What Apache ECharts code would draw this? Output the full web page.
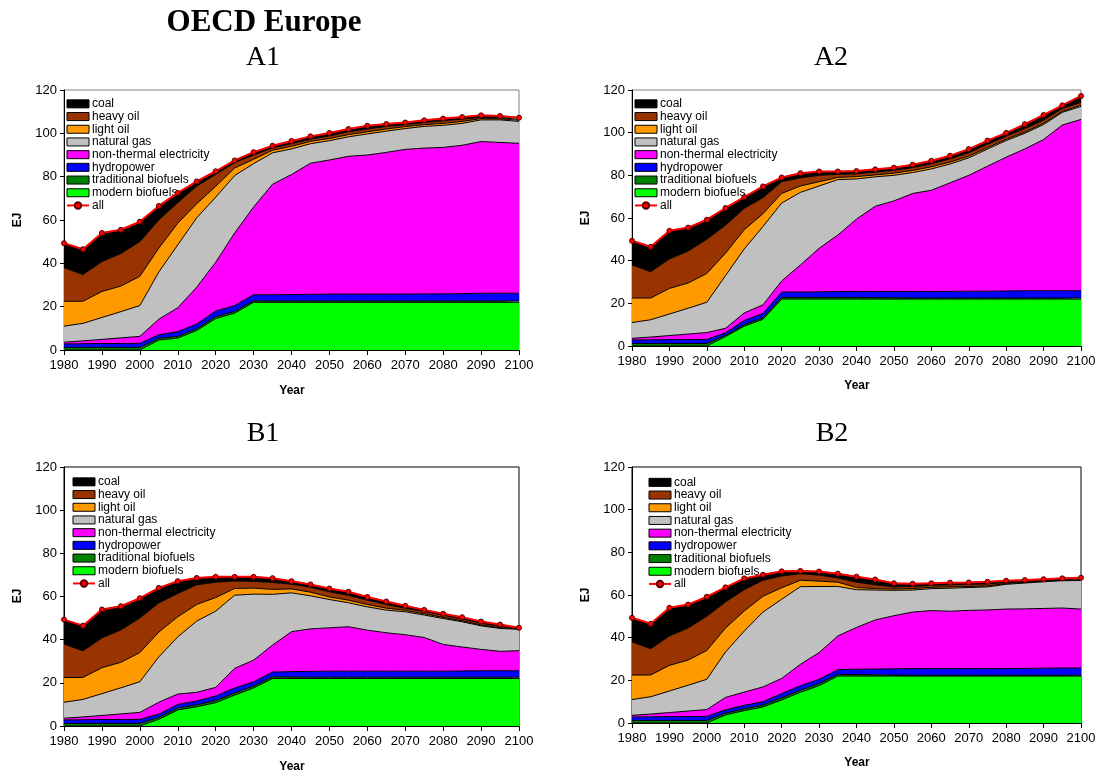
<!DOCTYPE html>
<html>
<head>
<meta charset="utf-8">
<script src="https://cdn.jsdelivr.net/npm/echarts@6/dist/echarts.min.js"></script>
<style>
  html, body { margin: 0; padding: 0; background: #fff; }
  #chart { width: 1100px; height: 776px; }
</style>
</head>
<body>
<div id="chart"></div>
<script>
// Years on the horizontal axis (5-year steps)
const years = ['1980','1985','1990','1995','2000','2005','2010','2015','2020','2025','2030','2035','2040',
               '2045','2050','2055','2060','2065','2070','2075','2080','2085','2090','2095','2100'];

// Shared history 1980-2000 (EJ)
const histModern = [0, 0, 0, 0, 0];
const histTrad   = [1.2, 1.2, 1.2, 1.2, 1.2];
const histHydro  = [1.6, 1.7, 1.8, 1.8, 1.9];
const histElec   = [0.8, 1.3, 1.9, 2.6, 3.2];
const histGas    = [7.4, 8.1, 10.1, 12.1, 14.2];
const histLight  = [11.5, 10.2, 12.0, 11.8, 13.5];
const histHeavy  = [15.5, 12.3, 13.8, 15.0, 16.0];
const histCoal   = [11.3, 11.7, 13.2, 11.0, 9.2];
const histAll    = [49.3, 46.5, 54.0, 55.5, 59.2];

// Scenario A1, 2005-2100
const a1Modern = [4.6,5.5,9.0,14.5,17.0,22,22,22,22,22,22,22,22,22,22,22,22,22,22,22];
const a1Trad   = [0.8,0.8,0.8,0.9,0.8,0.7,0.6,0.6,0.6,0.6,0.6,0.6,0.6,0.6,0.6,0.6,0.6,0.6,0.6,0.6];
const a1Hydro  = [1.6,2.2,2.2,2.6,2.7,2.8,2.9,3.0,3.1,3.2,3.2,3.2,3.2,3.2,3.3,3.3,3.4,3.6,3.6,3.6];
const a1Elec   = [7.2,11.0,17.0,22.5,33.5,40.5,51.0,55.4,60.5,61.9,63.6,64.2,65.4,66.8,67.3,67.6,68.5,70.0,69.6,69.2];
const a1Gas    = [21.8,29.0,32.0,30.0,26.5,20.0,14.5,11.8,9.0,8.9,9.0,9.7,9.8,9.6,10.0,10.2,10.1,10.0,10.4,10.1];
const a1Light  = [11.0,10.0,6.5,5.0,3.5,2.0,1.2,1.2,1.1,1.0,1.0,1.0,1.0,0.9,0.8,0.9,0.9,0.6,0.5,0.5];
const a1Heavy  = [13.0,9.5,8.1,5.5,2.5,2.0,1.1,1.2,1.0,1.2,1.3,1.3,1.2,0.9,1.0,1.2,1.1,0.6,0.5,0.5];
const a1Coal   = [6.5,4.5,2.2,1.5,1.0,1.3,1.0,1.3,1.3,1.4,1.3,1.5,1.1,1.0,1.0,1.0,0.9,0.9,0.8,0.7];
const a1All    = [66.5,72.5,77.8,82.5,87.5,91.3,94.3,96.5,98.6,100.2,102.0,103.5,104.3,105.0,106.0,106.8,107.5,108.3,108.0,107.2];

// Scenario A2, 2005-2100
const a2Modern = [4.4,9.3,12.5,22,22,22,22,22,22,22,22,22,22,22,22,22,22,22,22,22];
const a2Trad   = [0.6,0.7,0.8,0.8,0.8,0.8,0.8,0.8,0.7,0.6,0.5,0.5,0.5,0.5,0.5,0.5,0.5,0.5,0.5,0.5];
const a2Hydro  = [1.2,2.0,2.0,2.5,2.5,2.6,2.7,2.8,2.9,3.0,3.1,3.1,3.1,3.2,3.2,3.3,3.4,3.4,3.4,3.4];
const a2Elec   = [2.1,3.5,4.0,5.2,12.7,20.4,26.5,33.9,39.9,42.4,45.9,47.4,50.9,54.3,58.6,62.7,66.5,70.9,77.7,80.3];
const a2Gas    = [24.7,30.0,36.7,36.5,34.0,29.2,26.0,18.8,13.8,12.0,9.8,10.0,8.8,8.2,8.0,7.8,7.3,7.0,5.9,6.1];
const a2Light  = [10.5,9.0,6.0,4.5,3.0,2.0,1.0,1.1,0.9,1.0,1.0,1.0,0.9,0.8,0.7,0.6,0.6,0.6,0.5,0.5];
const a2Heavy  = [13.1,10.0,7.5,5.5,3.8,3.0,1.5,1.3,1.3,1.3,1.3,1.4,1.5,1.6,1.5,1.4,1.6,1.5,1.3,1.4];
const a2Coal   = [8.1,5.3,5.3,2.0,2.2,1.8,1.3,1.3,1.3,1.3,1.4,1.4,1.5,1.7,1.8,1.6,2.1,2.4,1.5,3.0];
const a2All    = [64.7,69.8,74.8,79.0,81.0,81.8,81.8,82.0,82.8,83.6,85.0,86.8,89.2,92.3,96.3,99.9,104.0,108.3,112.8,117.2];

// Scenario B1, 2005-2100
const b1Modern = [3.1,7.4,8.9,10.8,14.3,17.6,22,22,22,22,22,22,22,22,22,22,22,22,22,22];
const b1Trad   = [0.9,0.9,0.9,1.0,1.0,0.9,0.8,0.7,0.6,0.6,0.6,0.6,0.6,0.6,0.6,0.6,0.6,0.6,0.6,0.6];
const b1Hydro  = [1.5,1.7,1.8,2.1,2.3,2.0,2.2,2.5,2.7,2.8,2.8,2.8,2.8,2.8,2.8,2.8,2.9,3.0,3.0,3.0];
const b1Elec   = [5.5,4.8,4.0,4.0,9.1,10.0,12.5,18.5,19.7,20.1,20.6,19.0,17.8,16.9,15.6,12.4,11.1,9.9,9.0,9.3];
const b1Gas    = [21.0,26.5,33.0,35.3,33.9,30.6,23.5,18.0,15.3,13.1,11.1,10.8,10.5,10.6,10.4,12.0,11.7,10.9,10.6,9.9];
const b1Light  = [11.5,9.3,7.7,6.3,3.1,2.8,2.3,1.8,1.7,1.2,1.2,1.1,0.9,0.7,0.6,0.5,0.4,0.4,0.3,0.2];
const b1Heavy  = [13.5,10.8,9.1,7.1,3.5,3.1,3.2,2.2,2.3,2.4,2.2,2.0,1.7,1.0,1.0,1.0,0.9,0.8,0.7,0.2];
const b1Coal   = [7.0,5.7,3.2,2.5,1.9,2.1,2.0,1.4,1.3,1.5,1.7,1.5,1.4,1.1,0.8,0.7,0.8,0.8,0.8,0.3];
const b1All    = [64.0,67.1,68.6,69.1,69.1,69.1,68.5,67.1,65.6,63.7,62.2,59.8,57.7,55.7,53.8,52.0,50.4,48.4,47.0,45.5];

// Scenario B2, 2005-2100
const b2Modern = [3.8,5.8,7.5,10.8,14.4,17.5,22,22,22,22,22,22,22,22,22,22,22,22,22,22];
const b2Trad   = [0.8,0.9,0.9,1.0,1.0,1.0,0.8,0.7,0.6,0.5,0.4,0.4,0.4,0.4,0.4,0.4,0.4,0.4,0.4,0.4];
const b2Hydro  = [1.6,1.6,1.6,2.0,2.1,2.0,2.2,2.5,2.7,2.9,3.1,3.1,3.1,3.1,3.1,3.1,3.2,3.3,3.4,3.4];
const b2Elec   = [5.8,6.2,6.9,7.1,10.0,12.5,15.8,19.6,23.0,24.9,26.5,27.2,26.9,27.3,27.5,27.9,27.9,28.0,28.1,27.6];
const b2Gas    = [21.3,28.6,35.1,37.1,36.4,31.0,23.2,17.7,14.0,11.9,10.3,10.3,10.8,10.7,10.8,11.6,12.1,12.5,12.8,13.4];
const b2Light  = [11.2,9.4,7.4,5.4,3.0,2.5,2.0,1.0,0.7,0.6,0.7,0.6,0.6,0.5,0.4,0.4,0.3,0.3,0.3,0.3];
const b2Heavy  = [12.2,10.0,7.5,5.5,3.1,2.8,2.0,2.5,1.8,1.0,1.0,0.9,1.0,1.0,1.0,0.5,0.4,0.3,0.3,0.4];
const b2Coal   = [6.9,5.3,2.6,2.2,1.3,1.7,2.0,2.6,2.5,1.7,1.3,1.0,1.0,0.9,1.0,0.8,0.7,0.6,0.5,0.6];
const b2All    = [63.6,67.8,69.5,71.1,71.3,71.0,70.0,68.6,67.3,65.5,65.3,65.5,65.8,65.9,66.2,66.7,67.0,67.4,67.8,68.1];

// Stack order, bottom to top
const layerNames  = ['modern biofuels','traditional biofuels','hydropower','non-thermal electricity',
                     'natural gas','light oil','heavy oil','coal'];
const layerColors = ['#00FF00','#008000','#0000FF','#FF00FF','#C0C0C0','#FF9900','#993300','#000000'];
const histLayers  = [histModern, histTrad, histHydro, histElec, histGas, histLight, histHeavy, histCoal];

const yTicks = { min: 0, max: 120, interval: 20 };

const panels = [
  { title: 'A1', layers: [a1Modern,a1Trad,a1Hydro,a1Elec,a1Gas,a1Light,a1Heavy,a1Coal], all: a1All,
    grid: { left: 64, top: 90, width: 455, height: 260 }, legendPos: { left: 66, top: 97.5 },
    border: '#808080', titlePos: [263, 58], yearPos: [292, 391], ejPos: [18, 220] },
  { title: 'A2', layers: [a2Modern,a2Trad,a2Hydro,a2Elec,a2Gas,a2Light,a2Heavy,a2Coal], all: a2All,
    grid: { left: 632, top: 90, width: 449, height: 256 }, legendPos: { left: 634, top: 97.5 },
    border: '#808080', titlePos: [831, 58], yearPos: [857, 386], ejPos: [586, 218] },
  { title: 'B1', layers: [b1Modern,b1Trad,b1Hydro,b1Elec,b1Gas,b1Light,b1Heavy,b1Coal], all: b1All,
    grid: { left: 64, top: 467, width: 455, height: 259 }, legendPos: { left: 72, top: 475.5 },
    border: '#000000', titlePos: [263, 434], yearPos: [292, 767], ejPos: [18, 596] },
  { title: 'B2', layers: [b2Modern,b2Trad,b2Hydro,b2Elec,b2Gas,b2Light,b2Heavy,b2Coal], all: b2All,
    grid: { left: 632, top: 467, width: 449, height: 256 }, legendPos: { left: 648, top: 476 },
    border: '#000000', titlePos: [832, 434], yearPos: [857, 763], ejPos: [586, 595] }
];

const sansFont = '"Liberation Sans", Arial, sans-serif';
const serifFont = '"Liberation Serif", "Times New Roman", serif';

const grids = [], xAxes = [], yAxes = [], series = [], legends = [], graphics = [];

graphics.push({
  type: 'text', x: 264, y: 23, z: 10,
  style: { text: 'OECD Europe', font: 'bold 31px ' + serifFont, fill: '#000',
           align: 'center', verticalAlign: 'middle', textAlign: 'center', textVerticalAlign: 'middle' }
});

panels.forEach((p, gi) => {
  grids.push(Object.assign({ show: true, borderColor: p.border, borderWidth: 1,
                             backgroundColor: 'transparent' }, p.grid));
  xAxes.push({
    type: 'category', gridIndex: gi, data: years, boundaryGap: false,
    axisLine: { show: true, onZero: false, lineStyle: { color: '#000', width: 1 } },
    axisTick: { show: true, inside: false, length: 5, interval: 1, lineStyle: { color: '#000' } },
    axisLabel: { color: '#000', fontSize: 13, fontFamily: sansFont, margin: 9, interval: 1,
                 showMinLabel: true, showMaxLabel: true },
    splitLine: { show: false }
  });
  yAxes.push({
    type: 'value', gridIndex: gi, min: yTicks.min, max: yTicks.max, interval: yTicks.interval,
    axisLine: { show: true, lineStyle: { color: '#000', width: 1 } },
    axisTick: { show: true, inside: false, length: 4, lineStyle: { color: '#000' } },
    axisLabel: { color: '#000', fontSize: 13, fontFamily: sansFont, margin: 7 },
    splitLine: { show: false }
  });

  layerNames.forEach((name, li) => {
    series.push({
      type: 'line', name: name, xAxisIndex: gi, yAxisIndex: gi, stack: 'total' + gi,
      data: histLayers[li].concat(p.layers[li]),
      symbol: 'none', smooth: false, z: 2,
      lineStyle: { color: '#000', width: 1 },
      itemStyle: { color: layerColors[li] },
      areaStyle: { color: layerColors[li], opacity: 1 },
      emphasis: { disabled: true }
    });
  });
  series.push({
    type: 'line', name: 'all', xAxisIndex: gi, yAxisIndex: gi,
    data: histAll.concat(p.all),
    symbol: 'circle', symbolSize: 5, smooth: false, z: 5,
    lineStyle: { color: '#FF0000', width: 2 },
    itemStyle: { color: '#FF0000', borderColor: '#5a0000', borderWidth: 1 },
    emphasis: { disabled: true }
  });

  const legendData = layerNames.slice().reverse().map(name => {
    const c = layerColors[layerNames.indexOf(name)];
    return { name: name, icon: 'rect',
             itemStyle: { color: c, borderColor: '#000', borderWidth: 1 } };
  });
  legendData.push({ name: 'all' });
  legends.push({
    show: true, orient: 'vertical', left: p.legendPos.left, top: p.legendPos.top,
    padding: 0, itemGap: 0, itemWidth: 22, itemHeight: 8, selectedMode: false,
    textStyle: { color: '#000', fontSize: 12, fontFamily: sansFont, lineHeight: 12.7, padding: [0, 0, 0, -2] },
    data: legendData
  });

  graphics.push({
    type: 'text', x: p.titlePos[0], y: p.titlePos[1], z: 10,
    style: { text: p.title, font: '28px ' + serifFont, fill: '#000',
             align: 'center', verticalAlign: 'middle', textAlign: 'center', textVerticalAlign: 'middle' }
  });
  graphics.push({
    type: 'text', x: p.yearPos[0], y: p.yearPos[1], z: 10,
    style: { text: 'Year', font: 'bold 12px ' + sansFont, fill: '#000',
             align: 'center', verticalAlign: 'middle', textAlign: 'center', textVerticalAlign: 'middle' }
  });
  graphics.push({
    type: 'text', x: p.ejPos[0], y: p.ejPos[1], rotation: Math.PI / 2, z: 10,
    style: { text: 'EJ', font: 'bold 12px ' + sansFont, fill: '#000',
             align: 'center', verticalAlign: 'middle', textAlign: 'center', textVerticalAlign: 'middle' }
  });
});

const chart = echarts.init(document.getElementById('chart'), null, { renderer: 'canvas' });
chart.setOption({
  animation: false,
  backgroundColor: '#ffffff',
  grid: grids,
  xAxis: xAxes,
  yAxis: yAxes,
  legend: legends,
  series: series,
  graphic: graphics
});
</script>
</body>
</html>
